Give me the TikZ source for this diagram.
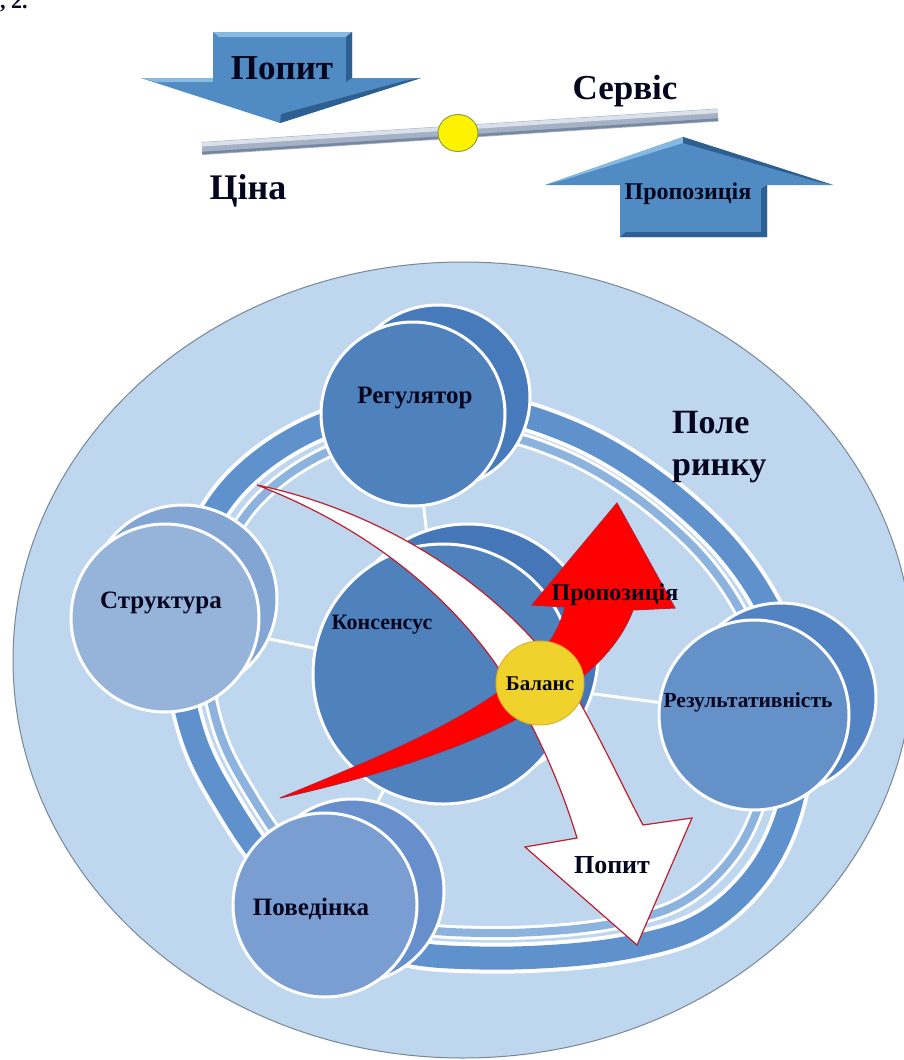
\documentclass[tikz,border=0pt]{standalone}
\usepackage{fontspec}
\setmainfont{Liberation Serif}
\usetikzlibrary{shapes.geometric}
\definecolor{field}{RGB}{190,214,238}
\definecolor{fieldline}{RGB}{120,135,150}
\definecolor{band}{RGB}{95,145,205}
\definecolor{bandin}{RGB}{140,178,222}
\definecolor{regc}{RGB}{79,129,189}
\definecolor{regb}{RGB}{70,122,186}
\definecolor{strc}{RGB}{150,180,218}
\definecolor{strb}{RGB}{130,165,212}
\definecolor{resc}{RGB}{100,145,200}
\definecolor{resb}{RGB}{82,132,195}
\definecolor{povc}{RGB}{122,158,210}
\definecolor{povb}{RGB}{102,143,204}
\definecolor{conc}{RGB}{79,129,189}
\definecolor{conb}{RGB}{68,118,184}
\definecolor{bal}{RGB}{240,210,45}
\definecolor{balline}{RGB}{220,180,40}
\definecolor{arrb}{RGB}{80,140,195}
\definecolor{arrd}{RGB}{45,95,145}
\definecolor{arrl}{RGB}{135,185,225}
\definecolor{barc}{RGB}{165,178,198}
\definecolor{barl}{RGB}{218,225,235}
\definecolor{bard}{RGB}{120,135,160}
\definecolor{txt}{RGB}{5,5,30}
\definecolor{redl}{RGB}{190,30,45}
\definecolor{pivline}{RGB}{140,160,60}
\begin{document}
\begin{tikzpicture}[x=1pt,y=-1pt,
  circ/.style={circle, draw=white, line width=3pt, inner sep=0pt, minimum size=#1},
  lbl/.style={text=txt, inner sep=0pt, anchor=base, font=\bfseries\fontsize{#1}{#1}\selectfont},
  spoke/.style={draw=white, line width=3pt},
  ringout/.style={draw=band, line width=23pt, preaction={draw=white, line width=31pt}},
  ringin/.style={draw=bandin, line width=8pt, preaction={draw=white, line width=14pt}},
]
\useasboundingbox (0,0) rectangle (904,1060);
\fill[white] (0,0) rectangle (904,1060);

% cut-off caption
\node[lbl=22, anchor=base west] (cap) at (0,9) {, 2.};

% ---------- top balance ----------
% down arrow
\fill[arrb] (213,32) -- (352,32) -- (352,78) -- (421,78) -- (280,123) -- (141,78) -- (213,78) -- cycle;
\fill[arrl] (213,32) -- (352,32) -- (346,37) -- (219,37) -- cycle;
\fill[arrd] (352,32) -- (352,78) -- (346,82) -- (346,37) -- cycle;
\fill[arrd] (421,78) -- (280,123) -- (281,114) -- (404,81) -- cycle;
\fill[arrl] (141,78) -- (213,78) -- (213,82) -- (156,82) -- cycle;
% up arrow
\fill[arrb] (683,137) -- (833,185) -- (767,185) -- (767,237) -- (620,237) -- (620,185) -- (545,185) -- cycle;
\fill[arrl] (683,137) -- (545,185) -- (560,181) -- (683,143) -- cycle;
\fill[arrd] (683,137) -- (833,185) -- (815,181) -- (683,143) -- cycle;
\fill[arrd] (767,185) -- (767,237) -- (761,232) -- (761,189) -- cycle;
\fill[arrd] (620,237) -- (767,237) -- (761,232) -- (626,232) -- cycle;
% bar
\coordinate (barL) at (202,148.5);
\coordinate (barR) at (718,115);
\coordinate (barLt) at (202,144.5);
\coordinate (barRt) at (718,111);
\coordinate (barLb) at (202,153);
\coordinate (barRb) at (718,119.5);
\draw[barc, line width=13pt] (barL) -- (barR);
\draw[barl, line width=4pt] (barLt) -- (barRt);
\draw[bard, line width=2.5pt] (barLb) -- (barRb);
\node[ellipse, draw=pivline, fill=yellow, line width=1pt, minimum width=40pt, minimum height=37pt, inner sep=0pt] (pivot) at (458,133) {};

\node[lbl=35] (tPopyt) at (282,79) {Попит};
\node[lbl=35] (tServis) at (625,99) {Сервіс};
\node[lbl=36] (tTsina) at (248,199) {Ціна};
\node[lbl=24] (tProp) at (688,199) {Пропозиція};

% ---------- market field ----------
\draw[fill=field, draw=fieldline, line width=1pt] (463,660) ellipse [x radius=450pt, y radius=398pt];

% centres
\coordinate (pcons) at (443,674);
\coordinate (preg) at (413,414);
\coordinate (pstr) at (165,618);
\coordinate (pres) at (754,715);
\coordinate (ppov) at (325,905);

% spokes
\draw[spoke] (pcons) -- (preg);
\draw[spoke] (pcons) -- (pstr);
\draw[spoke] (pcons) -- (pres);
\draw[spoke] (pcons) -- (ppov);

% rings
\draw[ringout] plot[smooth cycle, tension=0.6] coordinates {
 (413,400) (500,410) (560,428) (615,455) (672,495) (725,545) (764,600) (790,660)
 (800,730) (793,795) (772,852) (738,897) (695,928) (640,945) (570,955) (480,958)
 (400,950) (330,915) (270,865) (225,800) (195,740) (180,670) (184,600) (198,545)
 (222,500) (258,463) (305,433) (360,412)};
\begin{scope}[shift={(478,680)}, scale=0.91, shift={(-478,-680)}]
\draw[ringin] plot[smooth cycle, tension=0.6] coordinates {
 (413,400) (500,410) (560,428) (615,455) (672,495) (725,545) (764,600) (790,660)
 (800,730) (793,795) (772,852) (738,897) (695,928) (640,945) (570,955) (480,958)
 (400,950) (330,915) (270,865) (225,800) (195,740) (180,670) (184,600) (198,545)
 (222,500) (258,463) (305,433) (360,412)};
\end{scope}

% outer circles: back then front
\node[circ=184pt, fill=regb] (regB) at (438,397) {};
\node[circ=184pt, fill=regc] (reg) at (preg) {};
\node[circ=188pt, fill=strb] (strB) at (183,599) {};
\node[circ=188pt, fill=strc] (str) at (pstr) {};
\node[circ=190pt, fill=resb] (resB) at (781,698) {};
\node[circ=190pt, fill=resc] (res) at (pres) {};
\node[circ=184pt, fill=povb] (povB) at (352,891) {};
\node[circ=184pt, fill=povc] (pov) at (ppov) {};
\node[circ=260pt, fill=conb] (consB) at (468,654) {};
\node[circ=260pt, fill=conc] (cons) at (pcons) {};

% red arrow (Пропозиція)
\draw[redl, line width=1pt, fill=red] (280,798) .. controls (420,740) and (545,690) .. (565,607)
  -- (532,605) -- (617,503) -- (675,608) -- (633,610)
  .. controls (600,700) and (450,760) .. (280,798) -- cycle;

% white arrow (Попит)
\draw[redl, line width=1.2pt, fill=white] (257,485) .. controls (400,515) and (525,605) .. (583,708)
  .. controls (607,752) and (627,795) .. (643,825) -- (692,818) -- (637,945) -- (525,847) -- (577,838)
  .. controls (558,775) and (528,712) .. (495,663)
  .. controls (443,590) and (365,527) .. (257,485) -- cycle;

% balance
\node[ellipse, draw=balline, fill=bal, line width=1pt, minimum width=88pt, minimum height=84pt, inner sep=0pt] (bal) at (540,683) {};

% labels
\node[lbl=25] (lReg) at (415,403) {Регулятор};
\node[lbl=25] (lStr) at (161,608) {Структура};
\node[lbl=22] (lCons) at (382,629) {Консенсус};
\node[lbl=21] (lBal) at (540,690) {Баланс};
\node[lbl=24] (lProp) at (615,600) {Пропозиція};
\node[lbl=21.5] (lRes) at (748,707) {Результативність};
\node[lbl=25] (lPov) at (311,915) {Поведінка};
\node[lbl=26] (lPop) at (612,873) {Попит};
\node[lbl=34, anchor=base west] (lPole) at (672,433) {Поле};
\node[lbl=34, anchor=base west] (lRynku) at (672,475) {ринку};
\end{tikzpicture}
\end{document}
